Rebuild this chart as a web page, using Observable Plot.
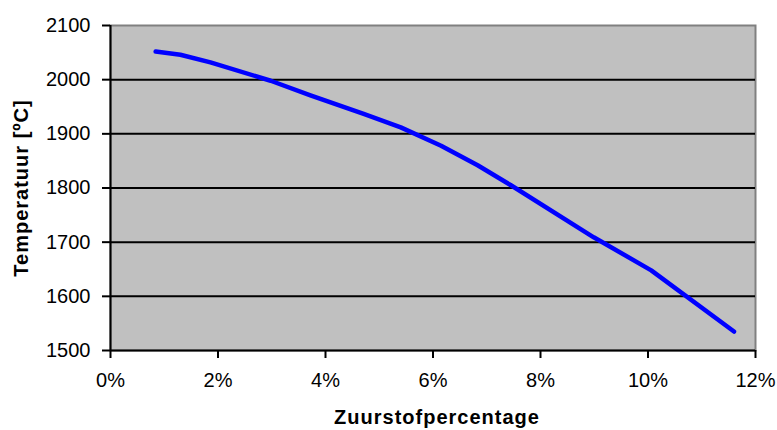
<!DOCTYPE html>
<html>
<head>
<meta charset="utf-8">
<script src="https://cdn.jsdelivr.net/npm/d3@7"></script>
<script src="https://cdn.jsdelivr.net/npm/@observablehq/plot@0.6"></script>
<style>
  html, body { margin: 0; padding: 0; background: #ffffff; }
  #chart svg { display: block; }
</style>
</head>
<body>
<div id="chart"></div>
<script>
// Data
const oxygenPct = [0.84, 1.30, 1.86, 2.98, 3.72, 4.71, 5.40, 6.15, 6.83, 7.45, 8.99, 10.06, 11.6];
const temperature = [2052, 2046, 2032, 1998, 1971, 1937, 1912, 1878, 1842, 1805, 1709, 1648, 1535];
const xTicks = [0, 2, 4, 6, 8, 10, 12];
const yTicks = [1500, 1600, 1700, 1800, 1900, 2000, 2100];
const gridValues = [1600, 1700, 1800, 1900, 2000];
const xTitle = "Zuurstofpercentage";
const yTitle = "Temperatuur [ºC]";

const data = oxygenPct.map((x, i) => ({x, y: temperature[i]}));

const chart = Plot.plot({
  width: 777,
  height: 430,
  marginLeft: 110,
  marginRight: 22,
  marginTop: 25,
  marginBottom: 80,
  style: {fontFamily: "'Liberation Sans', Arial, sans-serif", fontSize: "20px", color: "#000", background: "#fff"},
  x: {domain: [0, 12]},
  y: {domain: [1500, 2100]},
  marks: [
    Plot.frame({fill: "#c0c0c0", stroke: "#808080", strokeWidth: 2}),
    Plot.ruleY(gridValues, {stroke: "#000", strokeWidth: 2}),
    Plot.ruleX([0], {stroke: "#000", strokeWidth: 2}),
    Plot.ruleY([1500], {stroke: "#000", strokeWidth: 2}),
    Plot.axisX({ticks: xTicks, tickFormat: d => d + "%", tickSize: 8, tickPadding: 14, strokeWidth: 2, label: null, fontSize: 20}),
    Plot.axisY({ticks: yTicks, tickFormat: d => String(d), tickSize: 8, tickPadding: 12, strokeWidth: 2, label: null, fontSize: 20}),
    Plot.line(data, {x: "x", y: "y", stroke: "#0000ff", strokeWidth: 4.5, strokeLinejoin: "round"}),
    Plot.text([xTitle], {frameAnchor: "bottom", dy: 59, lineAnchor: "top", textAnchor: "middle", fontWeight: "bold", fontSize: 20, dx: 4}),
    Plot.text([yTitle], {frameAnchor: "left", dx: -89, rotate: -90, textAnchor: "middle", fontWeight: "bold", fontSize: 20})
  ]
});
d3.select(chart).selectAll('g[aria-label="text"] text').attr("letter-spacing", "1px");
document.getElementById("chart").append(chart);
</script>
</body>
</html>
